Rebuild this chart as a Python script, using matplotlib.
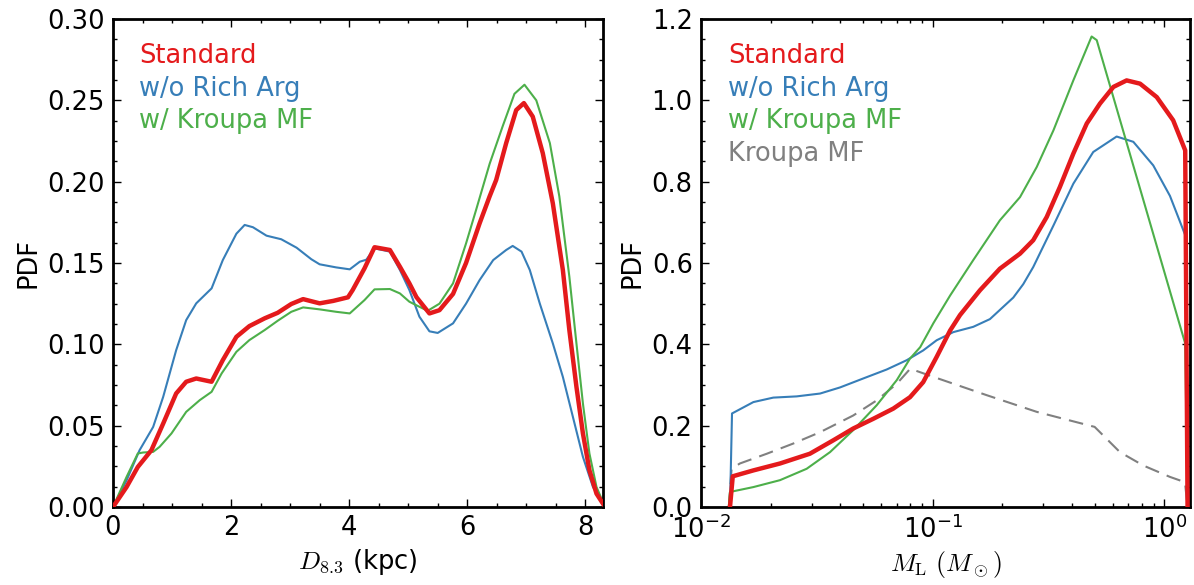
import numpy as np
import matplotlib
matplotlib.use('Agg')
import matplotlib.pyplot as plt
from matplotlib.ticker import MultipleLocator, LogLocator

# ---- left panel: PDF of lens distance D_8.3 (kpc)
d_std = [0, 0.23, 0.42, 0.65, 0.85, 1.07, 1.24, 1.41, 1.67, 1.86, 2.09, 2.31, 2.57, 2.79, 3.02,
         3.22, 3.50, 3.73, 3.98, 4.06, 4.26, 4.43, 4.69, 4.86, 5.02, 5.14, 5.36, 5.53, 5.76,
         5.98, 6.21, 6.38, 6.49, 6.66, 6.83, 6.96, 7.11, 7.28, 7.45, 7.62, 7.73, 7.85, 7.96,
         8.07, 8.19, 8.3]
pdf_std = [0, 0.0123, 0.0246, 0.0349, 0.0513, 0.0698, 0.077, 0.079, 0.077, 0.0903, 0.1046,
           0.1112, 0.116, 0.1194, 0.1248, 0.1278, 0.1252, 0.1267, 0.1289, 0.1334, 0.1467, 0.1597,
           0.158, 0.1477, 0.1375, 0.129, 0.119, 0.121, 0.131, 0.150, 0.1744, 0.191, 0.201,
           0.2237, 0.244, 0.2483, 0.240, 0.2175, 0.1867, 0.1457, 0.1088, 0.0739, 0.0452, 0.0226,
           0.0082, 0.002]

d_norich = [0, 0.23, 0.45, 0.68, 0.85, 1.07, 1.24, 1.41, 1.67, 1.86, 2.09, 2.23, 2.37, 2.60,
            2.85, 3.11, 3.36, 3.50, 3.78, 4.01, 4.18, 4.29, 4.43, 4.69, 4.86, 5.02, 5.19, 5.36,
            5.50, 5.76, 5.98, 6.21, 6.44, 6.66, 6.77, 6.92, 7.06, 7.23, 7.45, 7.62, 7.79, 7.96,
            8.13, 8.29]
pdf_norich = [0, 0.0164, 0.0349, 0.0492, 0.0677, 0.0964, 0.1149, 0.1252, 0.1344, 0.1518, 0.168,
              0.1734, 0.172, 0.1668, 0.1646, 0.1594, 0.1523, 0.1492, 0.1473, 0.1461, 0.1508,
              0.152, 0.159, 0.157, 0.1457, 0.1334, 0.117, 0.108, 0.107, 0.1129, 0.125, 0.1395,
              0.1518, 0.158, 0.1605, 0.157, 0.1457, 0.125, 0.1006, 0.080, 0.0554, 0.0308,
              0.0123, 0.003]

d_kroupa = [0, 0.23, 0.42, 0.51, 0.68, 0.79, 0.99, 1.24, 1.47, 1.67, 1.84, 2.09, 2.31, 2.57,
            2.79, 3.02, 3.22, 3.50, 3.78, 4.01, 4.26, 4.43, 4.69, 4.86, 5.02, 5.14, 5.33, 5.53,
            5.76, 5.98, 6.15, 6.38, 6.60, 6.80, 6.97, 7.17, 7.40, 7.56, 7.73, 7.85, 7.96, 8.07,
            8.19, 8.3]
pdf_kroupa = [0, 0.0185, 0.0329, 0.0335, 0.0339, 0.037, 0.0452, 0.0585, 0.0657, 0.0708, 0.0821,
              0.0954, 0.1026, 0.1088, 0.1145, 0.120, 0.1227, 0.1215, 0.120, 0.119, 0.1272,
              0.1338, 0.134, 0.1313, 0.1262, 0.124, 0.1206, 0.125, 0.1375, 0.162, 0.1826, 0.211,
              0.234, 0.254, 0.2596, 0.250, 0.2237, 0.191, 0.1416, 0.1006, 0.0636, 0.0329, 0.0123,
              0.003]

# ---- right panel: PDF of lens mass M_L (M_sun)
m_std = [0.01334, 0.01371, 0.01683, 0.02193, 0.02951, 0.03724, 0.04539, 0.05546, 0.06761,
         0.0798, 0.09099, 0.1040, 0.1189, 0.1312, 0.1600, 0.1950, 0.2382, 0.2716, 0.3105,
         0.3540, 0.4046, 0.4624, 0.5272, 0.6026, 0.6871, 0.7852, 0.9268, 1.091, 1.230, 1.259]
mpdf_std = [0, 0.0755, 0.090, 0.107, 0.131, 0.164, 0.193, 0.217, 0.242, 0.270, 0.307, 0.369,
            0.434, 0.472, 0.533, 0.586, 0.623, 0.656, 0.713, 0.787, 0.869, 0.943, 0.992, 1.033,
            1.049, 1.041, 1.008, 0.951, 0.877, 0]

m_norich = [0.01334, 0.01361, 0.01683, 0.02051, 0.02588, 0.03266, 0.03981, 0.05012, 0.06324,
            0.07727, 0.09099, 0.1040, 0.1227, 0.1496, 0.1766, 0.2228, 0.2460, 0.2716, 0.3319,
            0.4046, 0.4932, 0.6223, 0.7345, 0.8954, 1.057, 1.239, 1.259]
mpdf_norich = [0, 0.230, 0.258, 0.269, 0.272, 0.279, 0.294, 0.316, 0.338, 0.361, 0.385, 0.410,
               0.430, 0.443, 0.462, 0.515, 0.548, 0.590, 0.692, 0.795, 0.873, 0.911, 0.898,
               0.840, 0.765, 0.664, 0]

m_kroupa = [0.01318, 0.01334, 0.01683, 0.02193, 0.02858, 0.03606, 0.04539, 0.05728, 0.06998,
            0.0798, 0.08831, 0.1007, 0.1189, 0.1496, 0.1950, 0.2382, 0.2812, 0.3319, 0.4046,
            0.4853, 0.5105, 1.230, 1.259]
mpdf_kroupa = [0, 0.037, 0.049, 0.066, 0.094, 0.135, 0.189, 0.250, 0.312, 0.365, 0.393, 0.452,
               0.520, 0.607, 0.705, 0.762, 0.836, 0.926, 1.049, 1.157, 1.148, 0.402, 0]

m_imf = [0.01318, 0.01355, 0.01472, 0.01923, 0.02500, 0.03266, 0.04539, 0.05728, 0.06998,
         0.0800, 0.1007, 0.1710, 0.2812, 0.5000, 0.6427, 0.8110, 1.057, 1.227, 1.259]
pdf_imf = [0, 0.094, 0.107, 0.131, 0.156, 0.184, 0.225, 0.262, 0.303, 0.340, 0.320, 0.275,
           0.234, 0.197, 0.135, 0.102, 0.074, 0.061, 0]

labels = ['Standard', 'w/o Rich Arg', 'w/ Kroupa MF', 'Kroupa MF']
colors = ['#e41a1c', '#377eb8', '#4daf4a', '#808080']

plt.rcParams['font.family'] = 'DejaVu Sans'
plt.rcParams['font.size'] = 18.5
plt.rcParams['mathtext.fontset'] = 'cm'
plt.rcParams['axes.unicode_minus'] = False
plt.rcParams['axes.linewidth'] = 2.0


def style_axes(ax):
    ax.tick_params(which='both', direction='in', top=True, right=True, width=1.0)
    ax.tick_params(which='major', length=6, pad=6)
    ax.tick_params(which='minor', length=3)


fig = plt.figure(figsize=(11.94, 5.85), dpi=100)

#Left panel
ax1 = fig.add_axes([113 / 1194, 78 / 585, 490 / 1194, 488 / 585])
ax1.plot(d_std, pdf_std, color=colors[0], lw=3.2, zorder=3)
ax1.plot(d_norich, pdf_norich, color=colors[1], lw=1.5)
ax1.plot(d_kroupa, pdf_kroupa, color=colors[2], lw=1.5)
ax1.set_xlim(0, 8.3)
ax1.set_ylim(0, 0.30)
ax1.xaxis.set_major_locator(MultipleLocator(2))
ax1.xaxis.set_minor_locator(MultipleLocator(0.5))
ax1.yaxis.set_major_locator(MultipleLocator(0.05))
ax1.yaxis.set_minor_locator(MultipleLocator(0.0125))
ax1.yaxis.set_major_formatter(plt.FormatStrFormatter('%.2f'))
ax1.set_xlabel(r'$D_{8.3}$ (kpc)')
ax1.set_ylabel('PDF')
style_axes(ax1)
for i in range(3):
    ax1.text(0.053, 0.909 - 0.0665 * i, labels[i], color=colors[i],
             transform=ax1.transAxes, va='baseline')

#Right panel
ax2 = fig.add_axes([701 / 1194, 78 / 585, 489 / 1194, 488 / 585])
ax2.plot(m_imf, pdf_imf, color=colors[3], lw=1.5, dashes=(7, 4))
ax2.plot(m_norich, mpdf_norich, color=colors[1], lw=1.5)
ax2.plot(m_kroupa, mpdf_kroupa, color=colors[2], lw=1.5)
ax2.plot(m_std, mpdf_std, color=colors[0], lw=3.2, zorder=3)
ax2.set_xscale('log')
ax2.set_xlim(0.01, 1.29)
ax2.set_ylim(0, 1.2)
ax2.xaxis.set_minor_locator(LogLocator(base=10, subs=np.arange(2, 10)))
ax2.yaxis.set_major_locator(MultipleLocator(0.2))
ax2.yaxis.set_minor_locator(MultipleLocator(0.05))
ax2.yaxis.set_major_formatter(plt.FormatStrFormatter('%.1f'))
ax2.set_xlabel(r'$M_{\rm L}\ (M_\odot)$')
ax2.set_ylabel('PDF')
style_axes(ax2)
for i in range(4):
    ax2.text(0.056, 0.909 - 0.0665 * i, labels[i], color=colors[i],
             transform=ax2.transAxes, va='baseline')

fig.savefig('out.png', dpi=100)
